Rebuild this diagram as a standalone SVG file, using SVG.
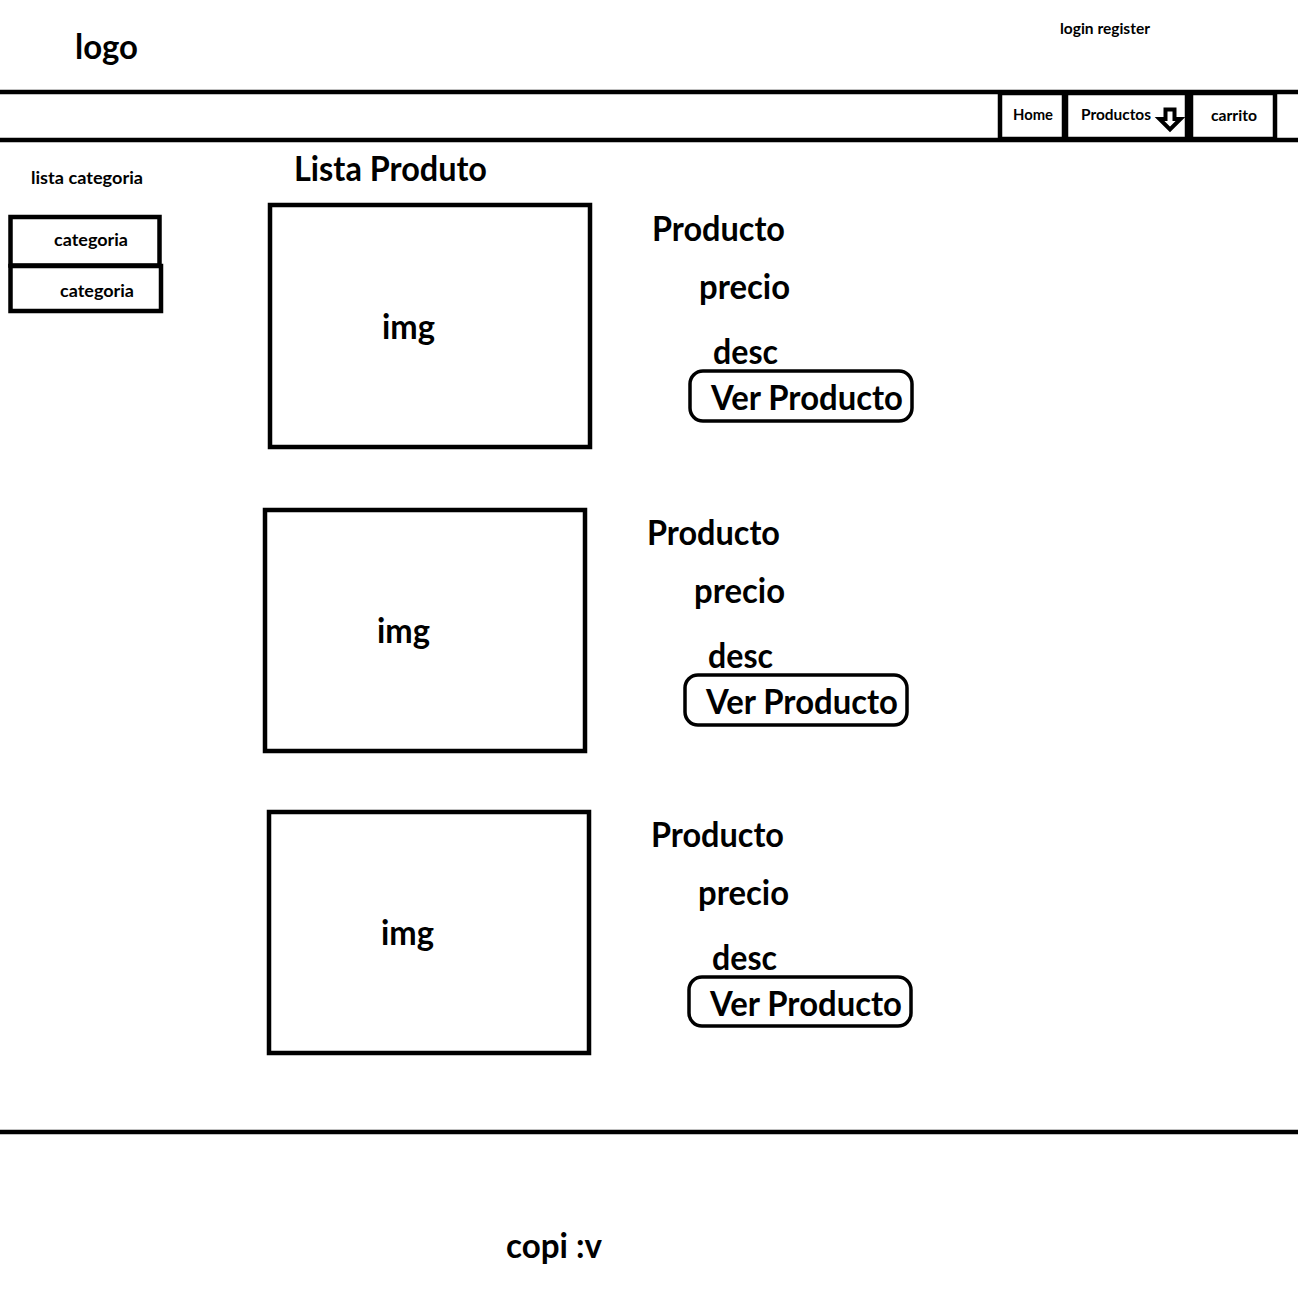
<svg xmlns="http://www.w3.org/2000/svg" width="1298" height="1301" viewBox="0 0 1298 1301">
<style>
.t{font-family:Lato,"Open Sans","Liberation Sans",sans-serif;font-weight:700;fill:#000}
.big{font-size:34px}
.sm{font-size:15px}
.md{font-size:17px}
.box{fill:#fff;stroke:#000;stroke-width:4.5}
.btn{fill:#fff;stroke:#000;stroke-width:3.5}
.ln{stroke:#000;stroke-width:4.5}
</style>
<rect width="1298" height="1301" fill="#fff"/>
<g id="header">
<text class="t big" x="75" y="59" textLength="63" lengthAdjust="spacingAndGlyphs">logo</text>
<text class="t sm" x="1060" y="34" textLength="90" lengthAdjust="spacingAndGlyphs">login register</text>
</g>
<g id="connectors">
<line class="ln" x1="0" y1="92" x2="1298" y2="92"/>
<line class="ln" x1="0" y1="140" x2="1298" y2="140"/>
<line class="ln" x1="0" y1="1132" x2="1298" y2="1132"/>
</g>
<g id="nav-home">
<rect class="box" x="1000" y="93" width="64" height="46"/>
<text class="t sm" x="1013" y="120" textLength="40" lengthAdjust="spacingAndGlyphs">Home</text>
</g>
<g id="nav-productos">
<rect class="box" x="1066" y="93" width="121" height="46"/>
<text class="t sm" x="1081" y="120" textLength="70" lengthAdjust="spacingAndGlyphs">Productos</text>
<polygon points="1165.5,109.5 1174.5,109.5 1174.5,119 1180.5,119 1170,129.5 1159.5,119 1165.5,119" fill="#fff" stroke="#000" stroke-width="4" stroke-linejoin="miter"/>
</g>
<g id="nav-carrito">
<rect class="box" x="1191" y="93" width="84" height="46"/>
<text class="t sm" x="1211" y="121" textLength="46" lengthAdjust="spacingAndGlyphs">carrito</text>
</g>
<g id="sidebar">
<text class="t md" x="31" y="184" textLength="112" lengthAdjust="spacingAndGlyphs">lista categoria</text>
</g>
<g id="categoria-1">
<rect class="box" x="10.5" y="217" width="149" height="48.5"/>
<text class="t md" x="54" y="246" textLength="74" lengthAdjust="spacingAndGlyphs">categoria</text>
</g>
<g id="categoria-2">
<rect class="box" x="10.5" y="266" width="150.5" height="45"/>
<text class="t md" x="60" y="297" textLength="74" lengthAdjust="spacingAndGlyphs">categoria</text>
</g>
<g id="title">
<text class="t big" x="294" y="181" textLength="193" lengthAdjust="spacingAndGlyphs">Lista Produto</text>
</g>
<g id="producto-1">
<rect class="box" x="270" y="205" width="320" height="242"/>
<text class="t big" x="382" y="339" textLength="53" lengthAdjust="spacingAndGlyphs">img</text>
<text class="t big" x="652" y="241" textLength="133" lengthAdjust="spacingAndGlyphs">Producto</text>
<text class="t big" x="699" y="299" textLength="91" lengthAdjust="spacingAndGlyphs">precio</text>
<text class="t big" x="713" y="364" textLength="65" lengthAdjust="spacingAndGlyphs">desc</text>
<rect class="btn" x="690" y="371" width="222" height="50" rx="13"/>
<text class="t big" x="711" y="410" textLength="192" lengthAdjust="spacingAndGlyphs">Ver Producto</text>
</g>
<g id="producto-2">
<rect class="box" x="265" y="510" width="320" height="241"/>
<text class="t big" x="377" y="643" textLength="53" lengthAdjust="spacingAndGlyphs">img</text>
<text class="t big" x="647" y="545" textLength="133" lengthAdjust="spacingAndGlyphs">Producto</text>
<text class="t big" x="694" y="603" textLength="91" lengthAdjust="spacingAndGlyphs">precio</text>
<text class="t big" x="708" y="668" textLength="65" lengthAdjust="spacingAndGlyphs">desc</text>
<rect class="btn" x="685" y="675" width="222" height="50" rx="13"/>
<text class="t big" x="706" y="714" textLength="192" lengthAdjust="spacingAndGlyphs">Ver Producto</text>
</g>
<g id="producto-3">
<rect class="box" x="269" y="812" width="320" height="241"/>
<text class="t big" x="381" y="945" textLength="53" lengthAdjust="spacingAndGlyphs">img</text>
<text class="t big" x="651" y="847" textLength="133" lengthAdjust="spacingAndGlyphs">Producto</text>
<text class="t big" x="698" y="905" textLength="91" lengthAdjust="spacingAndGlyphs">precio</text>
<text class="t big" x="712" y="970" textLength="65" lengthAdjust="spacingAndGlyphs">desc</text>
<rect class="btn" x="689" y="977" width="222" height="49" rx="13"/>
<text class="t big" x="710" y="1016" textLength="192" lengthAdjust="spacingAndGlyphs">Ver Producto</text>
</g>
<g id="footer">
<text class="t big" x="506" y="1258" textLength="96" lengthAdjust="spacingAndGlyphs">copi :v</text>
</g>
</svg>
